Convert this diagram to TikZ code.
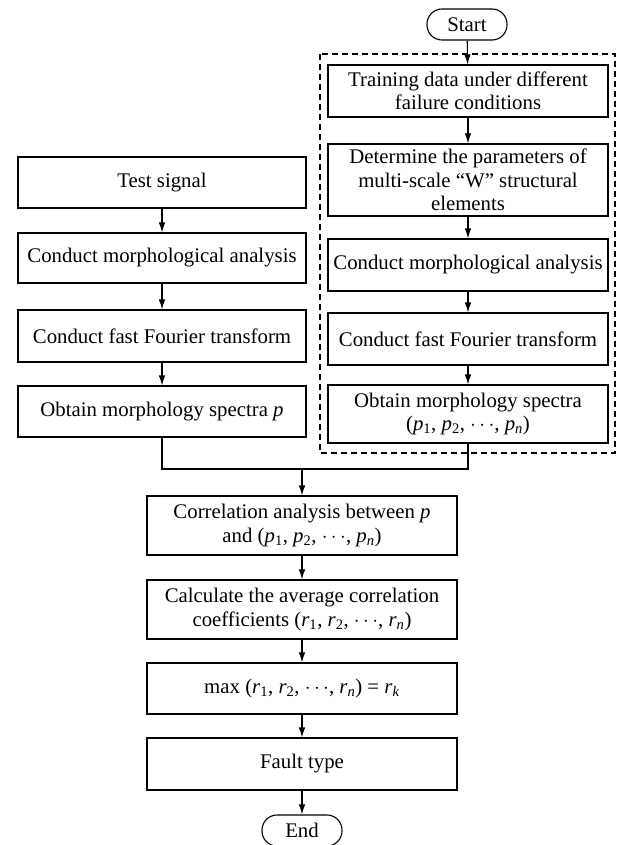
\documentclass[tikz,border=0pt]{standalone}
\usepackage{fontspec}
\setmainfont{Liberation Serif}
\usetikzlibrary{arrows.meta}
\newcommand{\ivar}[1]{\textit{#1}}
\newcommand{\isub}[2]{\textit{#1}\textsubscript{#2}}
\begin{document}
\begin{tikzpicture}[x=1pt,y=-1pt,
  every node/.style={font=\fontsize{20.8}{23.5}\selectfont},
  box/.style={draw, line width=1.1pt, rectangle, inner sep=0pt, align=center},
  lbox/.style={box, minimum width=288pt},
  rbox/.style={box, minimum width=280pt},
  bbox/.style={box, minimum width=310pt},
  pill/.style={draw, line width=1.1pt, rounded corners=15pt, minimum width=80pt, minimum height=31pt, inner sep=0pt},
  arr/.style={line width=1.1pt, -{Latex[length=10pt,width=6.5pt]}},
  ln/.style={line width=1.1pt}]
\useasboundingbox (0,0) rectangle (616,845);
% dashed frame
\draw[line width=1.1pt, dash pattern=on 6pt off 4pt] (320,54) rectangle (615,453);
% right column
\node[pill] (start) at (467,24.5) {Start};
\node[rbox, minimum height=52pt] (train) at (468,91) {Training data under different\\failure conditions};
\node[rbox, minimum height=72pt] (det) at (468,180) {Determine the parameters of\\multi-scale “W” structural\\elements};
\node[rbox, minimum height=52pt] (morphR) at (468,265) {Conduct morphological analysis};
\node[rbox, minimum height=52pt] (fftR) at (468,339) {Conduct fast Fourier transform};
\node[rbox, minimum height=58pt] (obtR) at (468,414) {Obtain morphology spectra\\(\isub{p}{1}, \isub{p}{2}, $\cdots$, \isub{p}{\textit{n}})};
% left column
\node[lbox, minimum height=51pt] (test) at (162,182.5) {Test signal};
\node[lbox, minimum height=50pt] (morphL) at (162,258) {Conduct morphological analysis};
\node[lbox, minimum height=52pt] (fftL) at (162,336) {Conduct fast Fourier transform};
\node[lbox, minimum height=51pt] (obtL) at (162,411.5) {Obtain morphology spectra \ivar{p}};
% bottom column
\coordinate (merge) at (302,469);
\node[bbox, minimum height=59pt] (corr) at (302,525.5) {Correlation analysis between \ivar{p}\\and (\isub{p}{1}, \isub{p}{2}, $\cdots$, \isub{p}{\textit{n}})};
\node[bbox, minimum height=59pt] (calc) at (302,609.5) {Calculate the average correlation\\coefficients (\isub{r}{1}, \isub{r}{2}, $\cdots$, \isub{r}{\textit{n}})};
\node[bbox, minimum height=51pt] (maxb) at (302,688.5) {max (\isub{r}{1}, \isub{r}{2}, $\cdots$, \isub{r}{\textit{n}}) = \isub{r}{\textit{k}}};
\node[bbox, minimum height=52pt] (fault) at (302,764) {Fault type};
\node[pill] (endn) at (302,830.5) {End};
% arrows right
\draw[arr] (start) -- (train);
\draw[arr] (train) -- (det);
\draw[arr] (det) -- (morphR);
\draw[arr] (morphR) -- (fftR);
\draw[arr] (fftR) -- (obtR);
% arrows left
\draw[arr] (test) -- (morphL);
\draw[arr] (morphL) -- (fftL);
\draw[arr] (fftL) -- (obtL);
% merge
\draw[ln] (obtL.south) |- (obtR.south |- merge) -- (obtR.south);
\draw[arr] (merge) -- (corr);
\draw[arr] (corr) -- (calc);
\draw[arr] (calc) -- (maxb);
\draw[arr] (maxb) -- (fault);
\draw[arr] (fault) -- (endn);
\end{tikzpicture}
\end{document}
